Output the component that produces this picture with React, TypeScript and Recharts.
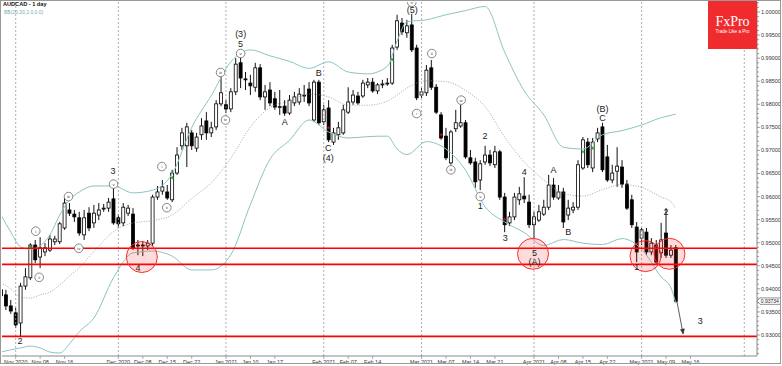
import React from 'react';
import { ComposedChart, Bar, Line, XAxis, YAxis, ReferenceLine, ReferenceDot, Scatter } from 'recharts';

const W = 782;
const H = 366;
const FONT = "'Liberation Sans', Arial, sans-serif";

// bar index of the first visible candle (0 = 2 Nov 2020)
const FIRST_INDEX = -3;

const opens = [
  0.9398, 0.9387, 0.9363, 0.9348, 0.9326, 0.9406, 0.9424, 0.9495, 0.9469, 0.9480, 0.9484, 0.9502, 0.9502,
  0.9532, 0.9571, 0.9562, 0.9554, 0.9517, 0.9564, 0.9543, 0.9560, 0.9573, 0.9575,
  0.9595, 0.9554, 0.9543, 0.9564, 0.9562, 0.9495, 0.9493, 0.9493, 0.9499, 0.9599,
  0.9612, 0.9610, 0.9593, 0.9651, 0.9710, 0.9710, 0.9738, 0.9705, 0.9734, 0.9764,
  0.9738, 0.9751, 0.9801, 0.9799, 0.9790, 0.9827, 0.9890, 0.9855, 0.9846, 0.9837,
  0.9879, 0.9816, 0.9831, 0.9812, 0.9794, 0.9796, 0.9781, 0.9803, 0.9805, 0.9818,
  0.9833, 0.9766, 0.9848, 0.9762, 0.9792, 0.9718, 0.9734, 0.9738, 0.9783, 0.9805,
  0.9818, 0.9818, 0.9842, 0.9848, 0.9829, 0.9842, 0.9844, 0.9846, 0.9924, 0.9976,
  0.9955, 0.9972, 0.9922, 0.9820, 0.9825, 0.9879, 0.9837, 0.9777, 0.9731, 0.9673,
  0.9747, 0.9753, 0.9760, 0.9684, 0.9675, 0.9636, 0.9675, 0.9690, 0.9669, 0.9697,
  0.9599, 0.9543, 0.9556, 0.9593, 0.9601, 0.9588, 0.9539, 0.9549, 0.9562, 0.9577,
  0.9625, 0.9597, 0.9610, 0.9560, 0.9571, 0.9577, 0.9662, 0.9718, 0.9662, 0.9725,
  0.9751, 0.9686, 0.9636, 0.9655, 0.9664, 0.9627, 0.9593, 0.9534, 0.9510, 0.9523,
  0.9480, 0.9495, 0.9478, 0.9521, 0.9473, 0.9489,
];
const highs = [
  0.9411, 0.9398, 0.9376, 0.9359, 0.9413, 0.9445, 0.9499, 0.9506, 0.9512, 0.9499, 0.9517, 0.9515, 0.9545,
  0.9597, 0.9586, 0.9571, 0.9567, 0.9571, 0.9577, 0.9582, 0.9586, 0.9584, 0.9597,
  0.9619, 0.9562, 0.9586, 0.9582, 0.9575, 0.9506, 0.9504, 0.9506, 0.9604, 0.9623,
  0.9636, 0.9625, 0.9658, 0.9707, 0.9749, 0.9760, 0.9744, 0.9738, 0.9770, 0.9783,
  0.9762, 0.9809, 0.9864, 0.9809, 0.9835, 0.9900, 0.9903, 0.9870, 0.9864, 0.9890,
  0.9887, 0.9842, 0.9848, 0.9827, 0.9831, 0.9809, 0.9820, 0.9827, 0.9835, 0.9842,
  0.9848, 0.9853, 0.9853, 0.9799, 0.9809, 0.9749, 0.9762, 0.9799, 0.9837, 0.9831,
  0.9827, 0.9853, 0.9857, 0.9857, 0.9846, 0.9853, 0.9857, 0.9929, 0.9994, 0.9987,
  0.9983, 0.9996, 0.9929, 0.9835, 0.9885, 0.9896, 0.9844, 0.9783, 0.9749, 0.9744,
  0.9788, 0.9799, 0.9766, 0.9701, 0.9684, 0.9679, 0.9710, 0.9701, 0.9710, 0.9701,
  0.9608, 0.9567, 0.9608, 0.9621, 0.9642, 0.9604, 0.9567, 0.9582, 0.9593, 0.9647,
  0.9640, 0.9625, 0.9619, 0.9593, 0.9588, 0.9679, 0.9729, 0.9727, 0.9727, 0.9749,
  0.9760, 0.9712, 0.9669, 0.9707, 0.9679, 0.9636, 0.9604, 0.9545, 0.9532, 0.9532,
  0.9510, 0.9506, 0.9543, 0.9575, 0.9495, 0.9495,
];
const lows = [
  0.9376, 0.9354, 0.9346, 0.9315, 0.9296, 0.9398, 0.9419, 0.9456, 0.9445, 0.9471, 0.9480, 0.9495, 0.9497,
  0.9528, 0.9558, 0.9545, 0.9515, 0.9506, 0.9525, 0.9532, 0.9549, 0.9567, 0.9567,
  0.9539, 0.9532, 0.9536, 0.9558, 0.9484, 0.9473, 0.9471, 0.9484, 0.9493, 0.9593,
  0.9604, 0.9593, 0.9588, 0.9647, 0.9701, 0.9664, 0.9701, 0.9697, 0.9723, 0.9723,
  0.9729, 0.9744, 0.9796, 0.9781, 0.9783, 0.9820, 0.9835, 0.9831, 0.9820, 0.9827,
  0.9809, 0.9788, 0.9796, 0.9788, 0.9777, 0.9775, 0.9777, 0.9796, 0.9799, 0.9805,
  0.9796, 0.9762, 0.9755, 0.9755, 0.9718, 0.9712, 0.9723, 0.9734, 0.9779, 0.9799,
  0.9799, 0.9814, 0.9835, 0.9825, 0.9822, 0.9835, 0.9840, 0.9842, 0.9918, 0.9950,
  0.9944, 0.9913, 0.9809, 0.9814, 0.9818, 0.9831, 0.9779, 0.9723, 0.9679, 0.9669,
  0.9740, 0.9749, 0.9682, 0.9669, 0.9619, 0.9614, 0.9669, 0.9666, 0.9662, 0.9593,
  0.9523, 0.9536, 0.9549, 0.9582, 0.9586, 0.9532, 0.9510, 0.9545, 0.9558, 0.9571,
  0.9593, 0.9593, 0.9532, 0.9549, 0.9564, 0.9571, 0.9658, 0.9662, 0.9653, 0.9718,
  0.9653, 0.9632, 0.9629, 0.9621, 0.9619, 0.9571, 0.9532, 0.9458, 0.9495, 0.9473,
  0.9473, 0.9454, 0.9467, 0.9467, 0.9467, 0.9370,
];
const closes = [
  0.9385, 0.9363, 0.9352, 0.9322, 0.9406, 0.9426, 0.9495, 0.9463, 0.9489, 0.9489, 0.9508, 0.9508, 0.9541,
  0.9586, 0.9564, 0.9556, 0.9521, 0.9554, 0.9532, 0.9564, 0.9571, 0.9575, 0.9588,
  0.9543, 0.9541, 0.9577, 0.9575, 0.9489, 0.9493, 0.9495, 0.9499, 0.9599, 0.9610,
  0.9621, 0.9597, 0.9651, 0.9690, 0.9738, 0.9751, 0.9710, 0.9729, 0.9753, 0.9738,
  0.9749, 0.9801, 0.9825, 0.9790, 0.9827, 0.9887, 0.9857, 0.9853, 0.9840, 0.9879,
  0.9816, 0.9827, 0.9803, 0.9794, 0.9795, 0.9781, 0.9809, 0.9816, 0.9822, 0.9820,
  0.9803, 0.9848, 0.9760, 0.9788, 0.9723, 0.9738, 0.9749, 0.9788, 0.9805, 0.9820,
  0.9803, 0.9846, 0.9848, 0.9829, 0.9842, 0.9844, 0.9846, 0.9922, 0.9981, 0.9957,
  0.9970, 0.9918, 0.9814, 0.9827, 0.9874, 0.9837, 0.9783, 0.9727, 0.9684, 0.9740,
  0.9760, 0.9760, 0.9686, 0.9673, 0.9632, 0.9671, 0.9690, 0.9673, 0.9697, 0.9599,
  0.9539, 0.9556, 0.9599, 0.9606, 0.9595, 0.9539, 0.9556, 0.9567, 0.9577, 0.9625,
  0.9599, 0.9610, 0.9545, 0.9575, 0.9577, 0.9669, 0.9723, 0.9669, 0.9718, 0.9738,
  0.9658, 0.9636, 0.9651, 0.9666, 0.9627, 0.9575, 0.9539, 0.9480, 0.9528, 0.9480,
  0.9499, 0.9458, 0.9506, 0.9473, 0.9484, 0.9373,
];

// Bollinger band readings (bar index -> price)
const bbIndex = [-3, -1, 1, 3, 5, 7, 9, 11, 13, 16, 20, 24, 28, 32, 36, 40, 44, 48, 52, 56, 60, 64, 68, 72, 76, 78, 80, 84, 88, 92, 96, 100, 104, 108, 112, 116, 120, 124, 128, 132, 134, 135];
const bbUpper = [0.9560, 0.9523, 0.9491, 0.9486, 0.9493, 0.9517, 0.9560, 0.9593, 0.9610, 0.9623, 0.9623, 0.9608, 0.9614, 0.9649, 0.9750, 0.9819, 0.9892, 0.9918, 0.9905, 0.9893, 0.9878, 0.9892, 0.9870, 0.9866, 0.9882, 0.9937, 0.9979, 0.9983, 0.9994, 1.0003, 1.0012, 0.9913, 0.9829, 0.9777, 0.9707, 0.9703, 0.9734, 0.9743, 0.9755, 0.9771, 0.9776, 0.9779];
const bbMiddle = [0.9413, 0.9400, 0.9382, 0.9380, 0.9387, 0.9393, 0.9408, 0.9428, 0.9446, 0.9481, 0.9524, 0.9543, 0.9548, 0.9560, 0.9596, 0.9630, 0.9683, 0.9751, 0.9793, 0.9807, 0.9822, 0.9816, 0.9798, 0.9798, 0.9807, 0.9820, 0.9835, 0.9851, 0.9849, 0.9830, 0.9795, 0.9729, 0.9675, 0.9636, 0.9607, 0.9601, 0.9615, 0.9626, 0.9620, 0.9599, 0.9589, 0.9574];
const bbLower = [0.9263, 0.9268, 0.9272, 0.9276, 0.9272, 0.9263, 0.9261, 0.9281, 0.9307, 0.9337, 0.9424, 0.9478, 0.9482, 0.9471, 0.9441, 0.9441, 0.9474, 0.9583, 0.9681, 0.9722, 0.9766, 0.9740, 0.9727, 0.9730, 0.9731, 0.9703, 0.9691, 0.9719, 0.9703, 0.9657, 0.9578, 0.9545, 0.9522, 0.9494, 0.9507, 0.9499, 0.9496, 0.9509, 0.9486, 0.9426, 0.9402, 0.9369];

// axes
const monthStarts = [0, 21, 43, 63, 83, 106, 128, 149];
const xTickIndex = [0, 5, 10, 21, 26, 31, 36, 43, 48, 53, 63, 68, 73, 83, 88, 93, 98, 106, 111, 116, 121, 128, 133, 138];
const xTickLabels = ['Nov 2020', 'Nov 08', 'Nov 16', 'Dec 2020', 'Dec 08', 'Dec 15', 'Dec 22', 'Jan 2021', 'Jan 10', 'Jan 17', 'Feb 2021', 'Feb 07', 'Feb 14', 'Mar 2021', 'Mar 07', 'Mar 14', 'Mar 21', 'Apr 2021', 'Apr 08', 'Apr 15', 'Apr 22', 'May 2021', 'May 09', 'May 16'];
const yMajorTicks = [0.93, 0.935, 0.94, 0.945, 0.95, 0.955, 0.96, 0.965, 0.97, 0.975, 0.98, 0.985, 0.99, 0.995, 1.0];
const lastPrice = 0.93734;

// support levels
const levelPrices = [0.9488, 0.9453, 0.9297];

// highlighted zones (bar index, price)
const circleIndex = [25.8, 105.8, 128.8, 133.7];
const circlePrice = [0.9469, 0.9476, 0.9471, 0.9476];

// wave labels
const waveText = ['2', '3', '4', '(3)', '5', 'A', 'B', 'C', '(4)', '(5)', '2', '1', '4', '3', 'A', 'B', '5', '(A)', '(B)', 'C', '1', '2', '3'];
const waveIndex = [0.9, 19.9, 25.0, 46.0, 46.0, 55.0, 62.0, 63.9, 63.9, 81.1, 96.0, 95.0, 104.0, 100.1, 110.0, 113.0, 106.1, 106.1, 120.0, 120.0, 127.0, 133.0, 140.0];
const wavePrice = [0.9287, 0.9655, 0.9445, 0.9952, 0.9931, 0.9762, 0.9868, 0.9706, 0.9684, 1.0004, 0.9731, 0.9580, 0.9653, 0.9510, 0.9659, 0.9523, 0.9479, 0.9459, 0.9790, 0.9770, 0.9447, 0.9566, 0.9331];

// circled sub-wave labels
const subText = ['i', 'ii', 'iii', 'iv', 'v', 'i', 'ii', 'iii', 'iv', 'v', 'i', 'ii', 'iii', 'iv', 'v', 'v'];
const subIndex = [4.1, 4.8, 10.8, 12.9, 20.0, 29.9, 30.9, 41.9, 42.9, 46.0, 82.0, 85.1, 89.0, 91.1, 95.0, 81.0];
const subPrice = [0.9525, 0.9425, 0.9600, 0.9488, 0.9627, 0.9665, 0.9576, 0.9869, 0.9766, 0.9910, 0.9780, 0.9910, 0.9658, 0.9809, 0.9600, 1.0021];

// band-touch markers
const greenIndex = [3, 32, 77, 116, 118];
const greenPrice = [0.9491, 0.9641, 0.9897, 0.9697, 0.9705];
const redIndex = [64, 87, 100];
const redPrice = [0.9749, 0.9734, 0.9551];

// projection arrow
const arrowIndex = [135.2, 136.5];
const arrowPrice = [0.9374, 0.9302];

const candles = opens.map((o, k) => ({ x: FIRST_INDEX + k, open: o, high: highs[k], low: lows[k], close: closes[k] }));
const upperData = bbIndex.map((x, k) => ({ x, v: bbUpper[k] }));
const middleData = bbIndex.map((x, k) => ({ x, v: bbMiddle[k] }));
const lowerData = bbIndex.map((x, k) => ({ x, v: bbLower[k] }));
const waveData = waveText.map((t, k) => ({ x: waveIndex[k], y: wavePrice[k], t }));
const subData = subText.map((t, k) => ({ x: subIndex[k], y: subPrice[k], t }));
const greenData = greenIndex.map((x, k) => ({ x, y: greenPrice[k] }));
const redData = redIndex.map((x, k) => ({ x, y: redPrice[k] }));
const arrowData = arrowIndex.map((x, k) => ({ x, v: arrowPrice[k] }));

const yAllTicks: number[] = [];
for (let k = 926; k <= 1002; k++) yAllTicks.push(k / 1000);

const CandleShape = (props: any) => {
  const { x, y, width, height, payload } = props;
  if (x == null || y == null || !payload) return <g />;
  const { open, high, low, close } = payload;
  const cx = x + width / 2;
  const top = Math.min(y, y + height);
  const h = Math.abs(height);
  const range = high - low || 1e-9;
  const py = (v: number) => top + ((high - v) / range) * h;
  const bull = close >= open;
  const bTop = py(Math.max(open, close));
  const bBot = py(Math.min(open, close));
  const bh = Math.max(0.8, bBot - bTop);
  return (
    <g>
      <line x1={cx} x2={cx} y1={top} y2={top + h} stroke="#111" strokeWidth={1} />
      <rect x={cx - 1.5} y={bTop} width={3} height={bh} fill={bull ? '#fff' : '#000'} stroke="#000" strokeWidth={0.8} />
    </g>
  );
};

const XTick = (props: any) => {
  const { x, y, payload } = props;
  const k = xTickIndex.indexOf(payload.value);
  return (
    <text x={x} y={y} dy="0.71em" textAnchor="middle" fontSize={5.5} fill="#333" fontFamily={FONT}>
      {k >= 0 ? xTickLabels[k] : ''}
    </text>
  );
};

const YTick = (props: any) => {
  const { x, y, payload } = props;
  const v = payload.value as number;
  const major = yMajorTicks.some((t) => Math.abs(t - v) < 1e-7);
  return (
    <g>
      <line x1={x} x2={x + (major ? 3 : 2)} y1={y} y2={y} stroke="#777" strokeWidth={0.7} />
      {major ? (
        <text x={x + 4} y={y} dy="0.35em" fontSize={5.5} fill="#333" fontFamily={FONT}>
          {v.toFixed(5)}
        </text>
      ) : null}
    </g>
  );
};

const WaveShape = (props: any) => {
  const { cx, cy, payload } = props;
  if (cx == null) return <g />;
  return (
    <text x={cx} y={cy} dy="0.35em" textAnchor="middle" fontSize={9} fill="#222" fontFamily={FONT}>
      {payload.t}
    </text>
  );
};

const SubShape = (props: any) => {
  const { cx, cy, payload } = props;
  if (cx == null) return <g />;
  return (
    <g>
      <circle cx={cx} cy={cy} r={4.3} fill="#fff" stroke="#555" strokeWidth={0.7} />
      <text x={cx} y={cy} dy="0.35em" textAnchor="middle" fontSize={4.2} fill="#333" fontFamily={FONT}>
        {payload.t}
      </text>
    </g>
  );
};

const makeMarker = (color: string) => (props: any) => {
  const { cx, cy } = props;
  if (cx == null) return <g />;
  return (
    <g>
      <line x1={cx - 1.5} x2={cx + 1.5} y1={cy} y2={cy} stroke={color} strokeWidth={1} />
      <line x1={cx} x2={cx} y1={cy - 1.5} y2={cy + 1.5} stroke={color} strokeWidth={1} />
    </g>
  );
};
const GreenMarker = makeMarker('#1a9a1a');
const RedMarker = makeMarker('#d01010');

const ArrowDot = (props: any) => {
  const { cx, cy, index } = props;
  if (index !== 1 || cx == null) return <g key={`ad${index}`} />;
  return (
    <polygon
      key="arrowhead"
      points={`${cx},${cy} ${cx + 1.3},${cy - 5.3} ${cx - 2.7},${cy - 4.5}`}
      fill="#333"
      stroke="#333"
      strokeWidth={0.5}
    />
  );
};

const PriceBox = (props: any) => {
  const { cx, cy } = props;
  if (cx == null) return <g />;
  return (
    <g>
      <polygon
        points={`${cx},${cy} ${cx + 3},${cy - 3.2} ${cx + 23.5},${cy - 3.2} ${cx + 23.5},${cy + 3.2} ${cx + 3},${cy + 3.2}`}
        fill="#fff"
        stroke="#444"
        strokeWidth={0.6}
      />
      <text x={cx + 3.8} y={cy} dy="0.35em" fontSize={5} fill="#222" fontFamily={FONT}>
        {lastPrice.toFixed(5)}
      </text>
    </g>
  );
};

export default function App() {
  return (
    <div style={{ position: 'relative', width: W, height: H, background: '#fff', overflow: 'hidden' }}>
      <style>{'body{margin:0;background:#fff;}'}</style>
      <ComposedChart width={W} height={H} data={candles} margin={{ top: 2, right: 0, bottom: 0, left: 2 }}>
        <XAxis
          dataKey="x"
          type="number"
          domain={[-2.8, 151.6]}
          allowDataOverflow
          ticks={xTickIndex}
          interval={0}
          tick={<XTick />}
          tickSize={3}
          tickMargin={1}
          tickLine={{ stroke: '#888', strokeWidth: 0.7 }}
          axisLine={{ stroke: '#888', strokeWidth: 1 }}
          height={10}
        />
        <YAxis
          orientation="right"
          type="number"
          domain={[0.92545, 1.00217]}
          allowDataOverflow
          ticks={yAllTicks}
          interval={0}
          tick={<YTick />}
          tickSize={0}
          tickMargin={0}
          tickLine={false}
          axisLine={{ stroke: '#888', strokeWidth: 1 }}
          width={25}
        />
        {monthStarts.map((m) => (
          <ReferenceLine key={`m${m}`} x={m} stroke="#9a9a9a" strokeWidth={0.8} strokeDasharray="2 2" />
        ))}
        <Line data={upperData} dataKey="v" type="monotone" stroke="#8cc3c3" strokeWidth={1} dot={false} isAnimationActive={false} />
        <Line data={lowerData} dataKey="v" type="monotone" stroke="#8cc3c3" strokeWidth={1} dot={false} isAnimationActive={false} />
        <Line data={middleData} dataKey="v" type="monotone" stroke="#7a9a9a" strokeWidth={0.8} strokeDasharray="1 1.5" dot={false} isAnimationActive={false} />
        <Bar dataKey={(d: any) => [d.low, d.high]} barSize={3} shape={CandleShape} isAnimationActive={false} />
        {levelPrices.map((p) => (
          <ReferenceLine key={`l${p}`} y={p} stroke="#ff0000" strokeWidth={1.6} />
        ))}
        {circleIndex.map((ci, k) => (
          <ReferenceDot key={`c${k}`} x={ci} y={circlePrice[k]} r={15.5} fill="rgba(255,40,40,0.16)" stroke="#ff2a2a" strokeWidth={1} />
        ))}
        <Scatter data={greenData} dataKey="y" shape={GreenMarker} isAnimationActive={false} />
        <Scatter data={redData} dataKey="y" shape={RedMarker} isAnimationActive={false} />
        <Scatter data={subData} dataKey="y" shape={SubShape} isAnimationActive={false} />
        <Scatter data={waveData} dataKey="y" shape={WaveShape} isAnimationActive={false} />
        <Line data={arrowData} dataKey="v" type="linear" stroke="#333" strokeWidth={0.8} dot={ArrowDot} isAnimationActive={false} />
        <ReferenceDot x={151.6} y={lastPrice} r={1} shape={PriceBox} />
      </ComposedChart>
      <div
        style={{
          position: 'absolute', left: 3, top: 1, fontFamily: FONT, fontSize: 5.6, fontWeight: 'bold', color: '#111', whiteSpace: 'nowrap', lineHeight: '7px',
        }}
      >
        AUDCAD - 1 day
      </div>
      <div
        style={{
          position: 'absolute', left: 4, top: 9, fontFamily: FONT, fontSize: 5, color: '#6fb0b0', whiteSpace: 'nowrap', lineHeight: '6px',
        }}
      >
        BB(20,20,2.0,0.0)
      </div>
      <div
        style={{
          position: 'absolute', left: 708, top: 0, width: 49, height: 49, background: '#ef2b2d', color: '#fff', textAlign: 'center',
        }}
      >
        <div style={{ fontFamily: "'Liberation Serif', 'DejaVu Serif', serif", fontSize: 14, lineHeight: '14px', marginTop: 15 }}>FxPro</div>
        <div style={{ fontFamily: FONT, fontSize: 4.6, lineHeight: '6px', marginTop: 0 }}>Trade Like a Pro</div>
      </div>
      <div
        style={{
          position: 'absolute', left: 0, top: 0, width: 781, height: 364, boxSizing: 'border-box', border: '1px solid #999', pointerEvents: 'none',
        }}
      />
    </div>
  );
}
